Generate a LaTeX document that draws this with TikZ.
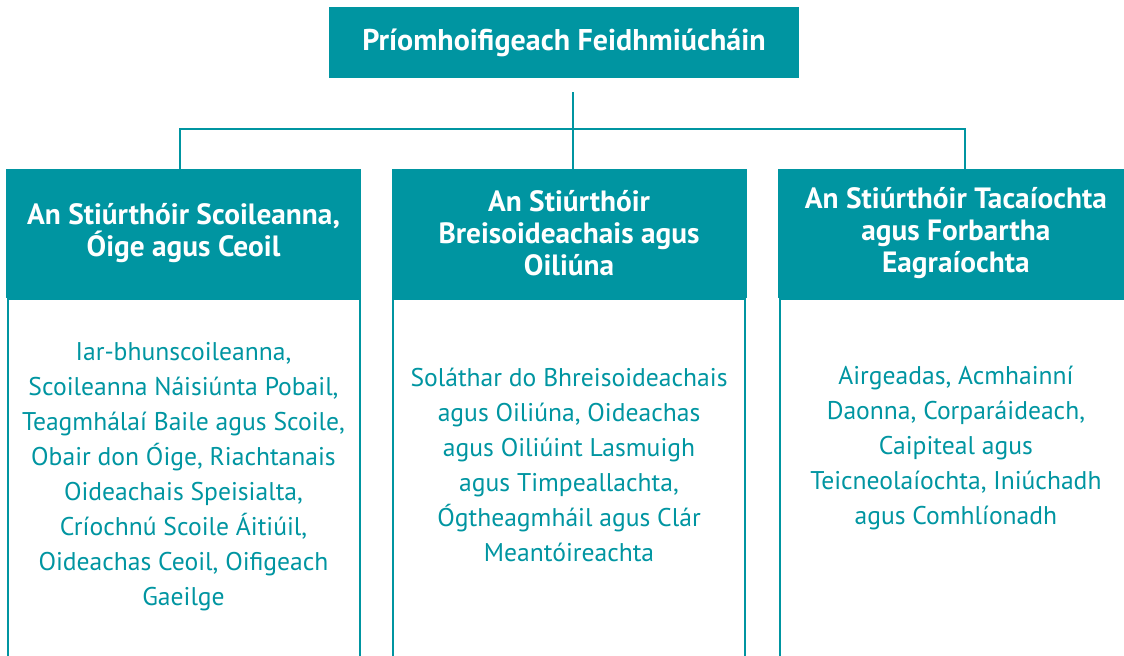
\documentclass[tikz,border=0pt]{standalone}
\usepackage{fontspec}
\setmainfont{PT Sans}
\usetikzlibrary{positioning}
\definecolor{petrol}{RGB}{0,149,161}

\begin{document}
\begin{tikzpicture}[x = 0.75pt, y = -0.75pt, node distance = 0pt]
  \useasboundingbox (0,0) rectangle (1124,656);
  \clip (0,0) rectangle (1124,656);
  \tikzset{ChiefStyle/.style = {rectangle,
                                fill           = petrol,
                                text           = white,
                                font           = \bfseries\fontsize{22.5}{24}\selectfont,
                                inner sep      = 0pt,
                                minimum width  = 352.5pt,
                                minimum height = 53.25pt}}
  \tikzset{HeadStyle/.style  = {rectangle,
                                fill           = petrol,
                                text           = white,
                                font           = \bfseries\fontsize{22}{24}\selectfont,
                                align          = center,
                                inner sep      = 0pt,
                                minimum width  = 266.25pt,
                                minimum height = 96.75pt}}
  \tikzset{FrameStyle/.style = {rectangle,
                                draw           = petrol,
                                line width     = 1.5pt,
                                inner sep      = 0pt,
                                minimum width  = 264pt,
                                minimum height = 300pt}}
  \tikzset{BodyStyle/.style  = {text           = petrol,
                                font           = \fontsize{19.2}{26.25}\selectfont,
                                align          = center,
                                inner sep      = 0pt}}
  \tikzset{LinkStyle/.style  = {draw           = petrol,
                                line width     = 1.5pt}}

     \node[ChiefStyle](Chief) at (564,42.5) {Príomhoifigeach Feidhmiúcháin};

     \node[HeadStyle](Schools) at (183.5,233.5)
          {An Stiúrthóir Scoileanna,\\ Óige agus Ceoil};
     \node[HeadStyle,right= 22.5pt of Schools](Further)
          {An Stiúrthóir\\ Breisoideachais agus\\ Oiliúna};
     \node[HeadStyle,right= 23.5pt of Further](Support)
          {An Stiúrthóir Tacaíochta\\ agus Forbartha\\ Eagraíochta};

     \node[FrameStyle,below= 0pt of Schools](SchoolsFrame){};
     \node[FrameStyle,below= 0pt of Further](FurtherFrame){};
     \node[FrameStyle,below= 0pt of Support](SupportFrame){};

     \node[BodyStyle,below= 33pt of Schools](SchoolsText)
          {Iar-bhunscoileanna,\\ Scoileanna Náisiúnta Pobail,\\
           Teagmhálaí Baile agus Scoile,\\ Obair don Óige, Riachtanais\\
           Oideachais Speisialta,\\ Críochnú Scoile Áitiúil,\\
           Oideachas Ceoil, Oifigeach\\ Gaeilge};
     \node[BodyStyle,below= 52.5pt of Further](FurtherText)
          {Soláthar do Bhreisoideachais\\ agus Oiliúna, Oideachas\\
           agus Oiliúint Lasmuigh\\ agus Timpeallachta,\\
           Ógtheagmháil agus Clár\\ Meantóireachta};
     \node[BodyStyle,below= 51pt of Support](SupportText)
          {Airgeadas, Acmhainní\\ Daonna, Corparáideach,\\
           Caipiteal agus\\ Teicneolaíochta, Iniúchadh\\ agus Comhlíonadh};

     \draw[LinkStyle]([xshift=2.6pt]Further.north) -- ++(0,-77);
     \draw[LinkStyle]([xshift=-2.6pt]Schools.north) -- ++(0,-40)
                     -| ([xshift=7pt]Support.north);
  \end{tikzpicture}
\end{document}
